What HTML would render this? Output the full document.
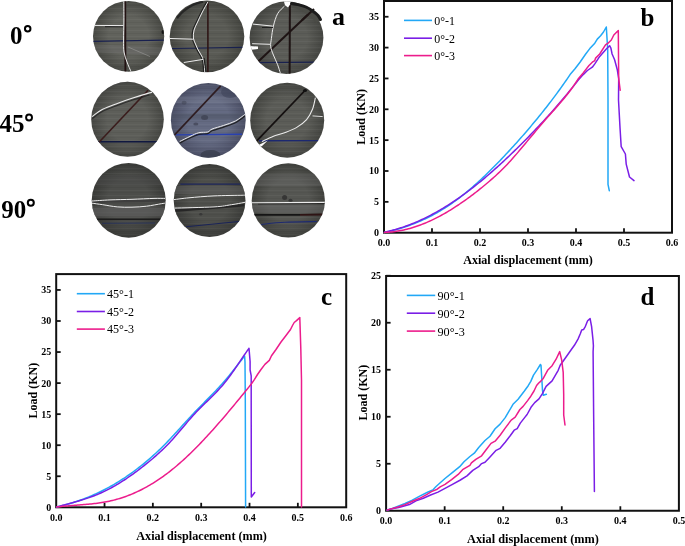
<!DOCTYPE html>
<html><head><meta charset="utf-8"><style>
html,body{margin:0;padding:0;background:#fff;}
svg{display:block;}
text{font-family:"Liberation Serif", serif;fill:#000;}
svg{will-change:transform;}
</style></head><body>
<svg width="685" height="546" viewBox="0 0 685 546">
<defs><pattern id="grain" width="53" height="11" patternUnits="userSpaceOnUse"><rect y="0" width="53" height="1" fill="#000" opacity="0.05"/><rect y="3" width="53" height="1" fill="#fff" opacity="0.03"/><rect y="5" width="53" height="1" fill="#000" opacity="0.04"/><rect y="8" width="53" height="1" fill="#fff" opacity="0.04"/></pattern><clipPath id="k0"><ellipse cx="128.6" cy="36.3" rx="35.6" ry="35.4"/></clipPath><radialGradient id="g0" cx="0.5" cy="0.5" r="0.5"><stop offset="0" stop-color="#61625c"/><stop offset="0.55" stop-color="#61625c"/><stop offset="1" stop-color="#464742"/></radialGradient><clipPath id="k1"><ellipse cx="207.0" cy="36.4" rx="37.3" ry="35.9"/></clipPath><radialGradient id="g1" cx="0.5" cy="0.5" r="0.5"><stop offset="0" stop-color="#5a5b55"/><stop offset="0.55" stop-color="#5a5b55"/><stop offset="1" stop-color="#43443f"/></radialGradient><clipPath id="k2"><ellipse cx="286.5" cy="37.7" rx="36.9" ry="36.4"/></clipPath><radialGradient id="g2" cx="0.5" cy="0.5" r="0.5"><stop offset="0" stop-color="#5b5c57"/><stop offset="0.55" stop-color="#5b5c57"/><stop offset="1" stop-color="#434440"/></radialGradient><clipPath id="k3"><ellipse cx="127.5" cy="119.3" rx="36.3" ry="37.5"/></clipPath><radialGradient id="g3" cx="0.5" cy="0.5" r="0.5"><stop offset="0" stop-color="#5d5e59"/><stop offset="0.55" stop-color="#5d5e59"/><stop offset="1" stop-color="#454642"/></radialGradient><clipPath id="k4"><ellipse cx="208.3" cy="120.3" rx="37.4" ry="37.4"/></clipPath><radialGradient id="g4" cx="0.5" cy="0.5" r="0.5"><stop offset="0" stop-color="#646a82"/><stop offset="0.55" stop-color="#646a82"/><stop offset="1" stop-color="#4a4e64"/></radialGradient><clipPath id="k5"><ellipse cx="287.2" cy="120.2" rx="37.0" ry="37.5"/></clipPath><radialGradient id="g5" cx="0.5" cy="0.5" r="0.5"><stop offset="0" stop-color="#5b5c57"/><stop offset="0.55" stop-color="#5b5c57"/><stop offset="1" stop-color="#434440"/></radialGradient><clipPath id="k6"><ellipse cx="128.7" cy="200.3" rx="37.0" ry="37.4"/></clipPath><radialGradient id="g6" cx="0.5" cy="0.5" r="0.5"><stop offset="0" stop-color="#4c4d4a"/><stop offset="0.55" stop-color="#4c4d4a"/><stop offset="1" stop-color="#393a37"/></radialGradient><clipPath id="k7"><ellipse cx="209.6" cy="200.5" rx="35.9" ry="36.4"/></clipPath><radialGradient id="g7" cx="0.5" cy="0.5" r="0.5"><stop offset="0" stop-color="#4e4f4b"/><stop offset="0.55" stop-color="#4e4f4b"/><stop offset="1" stop-color="#3a3b38"/></radialGradient><clipPath id="k8"><ellipse cx="288.3" cy="200.4" rx="36.6" ry="37.2"/></clipPath><radialGradient id="g8" cx="0.5" cy="0.5" r="0.5"><stop offset="0" stop-color="#555652"/><stop offset="0.55" stop-color="#555652"/><stop offset="1" stop-color="#3f403c"/></radialGradient></defs>
<rect width="685" height="546" fill="#fff"/>
<rect x="384" y="1" width="288" height="231.7" fill="none" stroke="#111" stroke-width="2"/>
<line x1="432.0" y1="232.7" x2="432.0" y2="228.2" stroke="#111" stroke-width="1.8"/>
<line x1="480.0" y1="232.7" x2="480.0" y2="228.2" stroke="#111" stroke-width="1.8"/>
<line x1="528.0" y1="232.7" x2="528.0" y2="228.2" stroke="#111" stroke-width="1.8"/>
<line x1="576.0" y1="232.7" x2="576.0" y2="228.2" stroke="#111" stroke-width="1.8"/>
<line x1="624.0" y1="232.7" x2="624.0" y2="228.2" stroke="#111" stroke-width="1.8"/>
<line x1="384" y1="201.85" x2="388.5" y2="201.85" stroke="#111" stroke-width="1.8"/>
<line x1="384" y1="171.0" x2="388.5" y2="171.0" stroke="#111" stroke-width="1.8"/>
<line x1="384" y1="140.14999999999998" x2="388.5" y2="140.14999999999998" stroke="#111" stroke-width="1.8"/>
<line x1="384" y1="109.29999999999998" x2="388.5" y2="109.29999999999998" stroke="#111" stroke-width="1.8"/>
<line x1="384" y1="78.44999999999999" x2="388.5" y2="78.44999999999999" stroke="#111" stroke-width="1.8"/>
<line x1="384" y1="47.599999999999994" x2="388.5" y2="47.599999999999994" stroke="#111" stroke-width="1.8"/>
<line x1="384" y1="16.75" x2="388.5" y2="16.75" stroke="#111" stroke-width="1.8"/>
<text x="384.0" y="246.1" font-size="10" font-weight="bold" text-anchor="middle">0.0</text>
<text x="432.0" y="246.1" font-size="10" font-weight="bold" text-anchor="middle">0.1</text>
<text x="480.0" y="246.1" font-size="10" font-weight="bold" text-anchor="middle">0.2</text>
<text x="528.0" y="246.1" font-size="10" font-weight="bold" text-anchor="middle">0.3</text>
<text x="576.0" y="246.1" font-size="10" font-weight="bold" text-anchor="middle">0.4</text>
<text x="624.0" y="246.1" font-size="10" font-weight="bold" text-anchor="middle">0.5</text>
<text x="672.0" y="246.1" font-size="10" font-weight="bold" text-anchor="middle">0.6</text>
<text x="379" y="236.1" font-size="10" font-weight="bold" text-anchor="end">0</text>
<text x="379" y="205.25" font-size="10" font-weight="bold" text-anchor="end">5</text>
<text x="379" y="174.4" font-size="10" font-weight="bold" text-anchor="end">10</text>
<text x="379" y="143.54999999999998" font-size="10" font-weight="bold" text-anchor="end">15</text>
<text x="379" y="112.69999999999999" font-size="10" font-weight="bold" text-anchor="end">20</text>
<text x="379" y="81.85" font-size="10" font-weight="bold" text-anchor="end">25</text>
<text x="379" y="50.99999999999999" font-size="10" font-weight="bold" text-anchor="end">30</text>
<text x="379" y="20.15" font-size="10" font-weight="bold" text-anchor="end">35</text>
<text x="528.0" y="264.4" font-size="12.1" font-weight="bold" text-anchor="middle">Axial displacement (mm)</text>
<text x="0" y="0" font-size="12" font-weight="bold" text-anchor="middle" transform="translate(365.0,116.85) rotate(-90)">Load (KN)</text>
<path d="M384.40,232.40 L385.90,232.08 L387.40,231.76 L388.90,231.42 L390.40,231.06 L391.90,230.70 L393.40,230.32 L394.90,229.93 L396.40,229.52 L397.90,229.10 L399.40,228.67 L400.90,228.22 L402.40,227.76 L403.90,227.28 L405.40,226.79 L406.90,226.28 L408.40,225.76 L409.90,225.22 L411.40,224.67 L412.90,224.10 L414.40,223.52 L415.90,222.92 L417.40,222.30 L418.90,221.67 L420.40,221.02 L421.90,220.36 L423.40,219.68 L424.90,218.98 L426.40,218.26 L427.90,217.53 L429.40,216.77 L430.90,216.00 L432.40,215.22 L433.90,214.41 L435.40,213.59 L436.90,212.75 L438.40,211.89 L439.90,211.01 L441.40,210.11 L442.90,209.19 L444.40,208.25 L445.90,207.30 L447.40,206.32 L448.90,205.33 L450.40,204.32 L451.90,203.28 L453.40,202.23 L454.90,201.15 L456.40,200.06 L457.90,198.94 L459.40,197.81 L460.90,196.65 L462.40,195.48 L463.90,194.28 L465.40,193.07 L466.90,191.83 L468.40,190.58 L469.90,189.31 L471.40,188.02 L472.90,186.71 L474.40,185.38 L475.90,184.04 L477.40,182.69 L478.90,181.31 L480.40,179.93 L481.90,178.52 L483.40,177.11 L484.90,175.68 L486.40,174.23 L487.90,172.77 L489.40,171.30 L490.90,169.82 L492.40,168.32 L493.90,166.82 L495.40,165.30 L496.90,163.77 L498.40,162.22 L499.90,160.67 L501.40,159.11 L502.90,157.53 L504.40,155.95 L505.90,154.35 L507.40,152.74 L508.90,151.13 L510.40,149.50 L511.90,147.86 L513.40,146.22 L514.90,144.56 L516.40,142.89 L517.90,141.21 L519.40,139.53 L520.90,137.83 L522.40,136.12 L523.90,134.40 L525.40,132.67 L526.90,130.93 L528.40,129.18 L529.90,127.41 L531.40,125.64 L532.90,123.85 L534.40,122.05 L535.90,120.24 L537.40,118.41 L538.90,116.57 L540.40,114.72 L541.90,112.86 L543.40,110.98 L544.90,109.08 L546.40,107.17 L547.90,105.25 L549.40,103.31 L550.90,101.35 L552.40,99.38 L553.90,97.38 L555.40,95.37 L556.90,93.34 L558.40,91.29 L559.90,89.22 L561.40,87.14 L562.90,85.03 L564.40,82.89 L565.90,80.74 L567.40,78.57 L568.90,76.37 L570.40,74.15 L570.50,74.00 L575.00,68.80 L580.00,62.20 L585.70,54.00 L589.80,48.60 L594.80,43.20 L597.30,39.10 L600.60,35.80 L603.50,32.00 L606.30,27.00 L606.80,35.00 L607.70,49.30 L608.00,100.00 L608.00,184.30 L609.30,190.70 " fill="none" stroke="#22a8f6" stroke-width="1.5" stroke-linejoin="round" stroke-linecap="round"/>
<path d="M384.40,232.19 L385.90,231.88 L387.40,231.55 L388.90,231.20 L390.40,230.84 L391.90,230.46 L393.40,230.06 L394.90,229.65 L396.40,229.22 L397.90,228.77 L399.40,228.31 L400.90,227.84 L402.40,227.34 L403.90,226.84 L405.40,226.31 L406.90,225.77 L408.40,225.22 L409.90,224.65 L411.40,224.06 L412.90,223.46 L414.40,222.84 L415.90,222.21 L417.40,221.57 L418.90,220.90 L420.40,220.23 L421.90,219.54 L423.40,218.83 L424.90,218.11 L426.40,217.37 L427.90,216.62 L429.40,215.85 L430.90,215.07 L432.40,214.28 L433.90,213.47 L435.40,212.65 L436.90,211.81 L438.40,210.96 L439.90,210.09 L441.40,209.21 L442.90,208.31 L444.40,207.41 L445.90,206.48 L447.40,205.55 L448.90,204.60 L450.40,203.63 L451.90,202.65 L453.40,201.66 L454.90,200.66 L456.40,199.64 L457.90,198.61 L459.40,197.56 L460.90,196.50 L462.40,195.43 L463.90,194.35 L465.40,193.25 L466.90,192.14 L468.40,191.02 L469.90,189.88 L471.40,188.73 L472.90,187.57 L474.40,186.39 L475.90,185.20 L477.40,184.00 L478.90,182.79 L480.40,181.57 L481.90,180.33 L483.40,179.08 L484.90,177.82 L486.40,176.54 L487.90,175.26 L489.40,173.97 L490.90,172.66 L492.40,171.34 L493.90,170.01 L495.40,168.68 L496.90,167.33 L498.40,165.97 L499.90,164.60 L501.40,163.22 L502.90,161.83 L504.40,160.44 L505.90,159.03 L507.40,157.62 L508.90,156.19 L510.40,154.76 L511.90,153.32 L513.40,151.87 L514.90,150.41 L516.40,148.94 L517.90,147.47 L519.40,145.99 L520.90,144.50 L522.40,143.00 L523.90,141.49 L525.40,139.98 L526.90,138.46 L528.40,136.92 L529.90,135.38 L531.40,133.84 L532.90,132.28 L534.40,130.72 L535.90,129.14 L537.40,127.56 L538.90,125.97 L540.40,124.37 L541.90,122.76 L543.40,121.14 L544.90,119.51 L546.40,117.87 L547.90,116.21 L549.40,114.55 L550.90,112.88 L552.40,111.19 L553.90,109.49 L555.40,107.78 L556.90,106.06 L558.40,104.33 L559.90,102.58 L561.40,100.82 L562.90,99.05 L564.40,97.26 L565.90,95.46 L567.40,93.65 L568.90,91.82 L570.40,89.97 L571.90,88.12 L573.40,86.24 L574.90,84.35 L576.40,82.45 L577.90,80.53 L578.30,80.01 L583.20,74.60 L587.40,70.50 L592.30,67.20 L594.80,63.90 L599.70,56.40 L606.30,49.00 L609.60,45.70 L610.90,48.20 L612.10,54.00 L614.60,59.70 L617.30,69.80 L618.70,78.60 L618.50,100.00 L620.00,127.50 L621.20,146.70 L625.40,154.00 L626.20,164.10 L629.50,177.00 L634.00,180.60 " fill="none" stroke="#7a1ee6" stroke-width="1.5" stroke-linejoin="round" stroke-linecap="round"/>
<path d="M384.40,232.40 L385.90,232.35 L387.40,232.27 L388.90,232.17 L390.40,232.05 L391.90,231.91 L393.40,231.74 L394.90,231.55 L396.40,231.33 L397.90,231.10 L399.40,230.84 L400.90,230.56 L402.40,230.26 L403.90,229.93 L405.40,229.58 L406.90,229.22 L408.40,228.83 L409.90,228.42 L411.40,227.99 L412.90,227.54 L414.40,227.06 L415.90,226.57 L417.40,226.06 L418.90,225.53 L420.40,224.98 L421.90,224.40 L423.40,223.81 L424.90,223.20 L426.40,222.57 L427.90,221.92 L429.40,221.26 L430.90,220.57 L432.40,219.87 L433.90,219.14 L435.40,218.40 L436.90,217.64 L438.40,216.87 L439.90,216.07 L441.40,215.26 L442.90,214.44 L444.40,213.59 L445.90,212.73 L447.40,211.85 L448.90,210.96 L450.40,210.04 L451.90,209.12 L453.40,208.17 L454.90,207.22 L456.40,206.24 L457.90,205.25 L459.40,204.25 L460.90,203.23 L462.40,202.19 L463.90,201.14 L465.40,200.08 L466.90,199.00 L468.40,197.91 L469.90,196.81 L471.40,195.69 L472.90,194.55 L474.40,193.41 L475.90,192.25 L477.40,191.08 L478.90,189.89 L480.40,188.69 L481.90,187.48 L483.40,186.26 L484.90,185.02 L486.40,183.78 L487.90,182.51 L489.40,181.23 L490.90,179.94 L492.40,178.63 L493.90,177.29 L495.40,175.94 L496.90,174.56 L498.40,173.16 L499.90,171.73 L501.40,170.28 L502.90,168.80 L504.40,167.29 L505.90,165.75 L507.40,164.18 L508.90,162.57 L510.40,160.94 L511.90,159.27 L513.40,157.58 L514.90,155.86 L516.40,154.13 L517.90,152.37 L519.40,150.60 L520.90,148.82 L522.40,147.03 L523.90,145.23 L525.40,143.43 L526.90,141.63 L528.40,139.83 L529.90,138.03 L531.40,136.23 L532.90,134.44 L534.40,132.65 L535.90,130.86 L537.40,129.08 L538.90,127.31 L540.40,125.54 L541.90,123.79 L543.40,122.05 L544.90,120.31 L546.40,118.59 L547.90,116.88 L549.40,115.19 L550.90,113.50 L552.40,111.82 L553.90,110.14 L555.40,108.45 L556.90,106.75 L558.40,105.04 L559.90,103.31 L561.40,101.55 L562.90,99.76 L564.40,97.95 L565.90,96.09 L567.40,94.19 L568.90,92.25 L570.40,90.25 L571.90,88.20 L573.40,86.09 L574.90,83.91 L576.40,81.66 L577.90,79.34 L578.30,78.70 L583.20,72.90 L589.00,65.50 L592.30,62.20 L594.80,60.60 L595.60,58.10 L599.70,54.00 L605.50,44.90 L608.00,43.20 L611.30,40.00 L613.80,35.00 L618.30,30.50 L618.70,78.60 L620.20,90.30 " fill="none" stroke="#ec1c8c" stroke-width="1.5" stroke-linejoin="round" stroke-linecap="round"/>
<line x1="404" y1="20.4" x2="432" y2="20.4" stroke="#22a8f6" stroke-width="1.6"/>
<text x="0" y="0" font-size="12.6" transform="translate(434.3,24.7) scale(0.95,1)">0°-1</text>
<line x1="404" y1="38.2" x2="432" y2="38.2" stroke="#7a1ee6" stroke-width="1.6"/>
<text x="0" y="0" font-size="12.6" transform="translate(434.3,42.5) scale(0.95,1)">0°-2</text>
<line x1="404" y1="55.6" x2="432" y2="55.6" stroke="#ec1c8c" stroke-width="1.6"/>
<text x="0" y="0" font-size="12.6" transform="translate(434.3,59.9) scale(0.95,1)">0°-3</text>
<text x="640.5" y="26" font-size="25" font-weight="bold">b</text>
<rect x="56.2" y="274.1" width="290.0" height="233.2" fill="none" stroke="#111" stroke-width="2"/>
<line x1="104.53" y1="507.3" x2="104.53" y2="502.8" stroke="#111" stroke-width="1.8"/>
<line x1="152.86" y1="507.3" x2="152.86" y2="502.8" stroke="#111" stroke-width="1.8"/>
<line x1="201.19" y1="507.3" x2="201.19" y2="502.8" stroke="#111" stroke-width="1.8"/>
<line x1="249.52000000000004" y1="507.3" x2="249.52000000000004" y2="502.8" stroke="#111" stroke-width="1.8"/>
<line x1="297.85" y1="507.3" x2="297.85" y2="502.8" stroke="#111" stroke-width="1.8"/>
<line x1="56.2" y1="476.25" x2="60.7" y2="476.25" stroke="#111" stroke-width="1.8"/>
<line x1="56.2" y1="445.2" x2="60.7" y2="445.2" stroke="#111" stroke-width="1.8"/>
<line x1="56.2" y1="414.15" x2="60.7" y2="414.15" stroke="#111" stroke-width="1.8"/>
<line x1="56.2" y1="383.1" x2="60.7" y2="383.1" stroke="#111" stroke-width="1.8"/>
<line x1="56.2" y1="352.05" x2="60.7" y2="352.05" stroke="#111" stroke-width="1.8"/>
<line x1="56.2" y1="321.0" x2="60.7" y2="321.0" stroke="#111" stroke-width="1.8"/>
<line x1="56.2" y1="289.95000000000005" x2="60.7" y2="289.95000000000005" stroke="#111" stroke-width="1.8"/>
<text x="56.2" y="520.7" font-size="10" font-weight="bold" text-anchor="middle">0.0</text>
<text x="104.53" y="520.7" font-size="10" font-weight="bold" text-anchor="middle">0.1</text>
<text x="152.86" y="520.7" font-size="10" font-weight="bold" text-anchor="middle">0.2</text>
<text x="201.19" y="520.7" font-size="10" font-weight="bold" text-anchor="middle">0.3</text>
<text x="249.52000000000004" y="520.7" font-size="10" font-weight="bold" text-anchor="middle">0.4</text>
<text x="297.85" y="520.7" font-size="10" font-weight="bold" text-anchor="middle">0.5</text>
<text x="346.18" y="520.7" font-size="10" font-weight="bold" text-anchor="middle">0.6</text>
<text x="51.2" y="510.7" font-size="10" font-weight="bold" text-anchor="end">0</text>
<text x="51.2" y="479.65" font-size="10" font-weight="bold" text-anchor="end">5</text>
<text x="51.2" y="448.59999999999997" font-size="10" font-weight="bold" text-anchor="end">10</text>
<text x="51.2" y="417.54999999999995" font-size="10" font-weight="bold" text-anchor="end">15</text>
<text x="51.2" y="386.5" font-size="10" font-weight="bold" text-anchor="end">20</text>
<text x="51.2" y="355.45" font-size="10" font-weight="bold" text-anchor="end">25</text>
<text x="51.2" y="324.4" font-size="10" font-weight="bold" text-anchor="end">30</text>
<text x="51.2" y="293.35" font-size="10" font-weight="bold" text-anchor="end">35</text>
<text x="201.6" y="540.2" font-size="12.2" font-weight="bold" text-anchor="middle">Axial displacement (mm)</text>
<text x="0" y="0" font-size="12" font-weight="bold" text-anchor="middle" transform="translate(37.0,390.70000000000005) rotate(-90)">Load (KN)</text>
<path d="M56.80,506.99 L58.30,506.65 L59.80,506.29 L61.30,505.93 L62.80,505.55 L64.30,505.15 L65.80,504.75 L67.30,504.33 L68.80,503.90 L70.30,503.46 L71.80,503.00 L73.30,502.54 L74.80,502.05 L76.30,501.56 L77.80,501.05 L79.30,500.53 L80.80,499.99 L82.30,499.45 L83.80,498.88 L85.30,498.31 L86.80,497.72 L88.30,497.11 L89.80,496.49 L91.30,495.86 L92.80,495.21 L94.30,494.55 L95.80,493.87 L97.30,493.18 L98.80,492.47 L100.30,491.74 L101.80,491.01 L103.30,490.25 L104.80,489.48 L106.30,488.70 L107.80,487.90 L109.30,487.08 L110.80,486.25 L112.30,485.40 L113.80,484.53 L115.30,483.65 L116.80,482.75 L118.30,481.84 L119.80,480.91 L121.30,479.96 L122.80,478.99 L124.30,478.01 L125.80,477.01 L127.30,475.99 L128.80,474.96 L130.30,473.90 L131.80,472.83 L133.30,471.74 L134.80,470.64 L136.30,469.51 L137.80,468.37 L139.30,467.21 L140.80,466.03 L142.30,464.83 L143.80,463.62 L145.30,462.38 L146.80,461.12 L148.30,459.85 L149.80,458.56 L151.30,457.25 L152.80,455.91 L154.30,454.56 L155.80,453.18 L157.30,451.79 L158.80,450.37 L160.30,448.93 L161.80,447.47 L163.30,445.98 L164.80,444.48 L166.30,442.94 L167.80,441.39 L169.30,439.81 L170.80,438.22 L172.30,436.61 L173.80,434.99 L175.30,433.35 L176.80,431.71 L178.30,430.06 L179.80,428.41 L181.30,426.75 L182.80,425.10 L184.30,423.44 L185.80,421.79 L187.30,420.15 L188.80,418.52 L190.30,416.89 L191.80,415.28 L193.30,413.69 L194.80,412.11 L196.30,410.55 L197.80,409.00 L199.30,407.47 L200.80,405.94 L202.30,404.42 L203.80,402.91 L205.30,401.40 L206.80,399.89 L208.30,398.37 L209.80,396.85 L211.30,395.32 L212.80,393.78 L214.30,392.23 L215.80,390.66 L217.30,389.07 L218.80,387.46 L220.30,385.83 L221.80,384.17 L223.30,382.49 L224.80,380.77 L226.30,379.02 L227.80,377.23 L229.30,375.40 L230.80,373.55 L232.30,371.67 L233.80,369.78 L235.30,367.87 L236.80,365.94 L238.30,364.02 L239.80,362.09 L241.30,360.17 L242.80,358.27 L244.30,356.37 L244.60,356.00 L245.00,362.00 L245.30,400.00 L245.60,507.00 " fill="none" stroke="#22a8f6" stroke-width="1.5" stroke-linejoin="round" stroke-linecap="round"/>
<path d="M56.80,507.00 L58.30,506.58 L59.80,506.16 L61.30,505.75 L62.80,505.34 L64.30,504.93 L65.80,504.52 L67.30,504.11 L68.80,503.71 L70.30,503.30 L71.80,502.88 L73.30,502.47 L74.80,502.04 L76.30,501.62 L77.80,501.18 L79.30,500.74 L80.80,500.29 L82.30,499.83 L83.80,499.36 L85.30,498.88 L86.80,498.38 L88.30,497.88 L89.80,497.35 L91.30,496.82 L92.80,496.26 L94.30,495.69 L95.80,495.10 L97.30,494.49 L98.80,493.86 L100.30,493.21 L101.80,492.54 L103.30,491.85 L104.80,491.13 L106.30,490.39 L107.80,489.64 L109.30,488.86 L110.80,488.06 L112.30,487.24 L113.80,486.40 L115.30,485.54 L116.80,484.67 L118.30,483.77 L119.80,482.85 L121.30,481.92 L122.80,480.97 L124.30,480.00 L125.80,479.01 L127.30,478.00 L128.80,476.98 L130.30,475.94 L131.80,474.88 L133.30,473.81 L134.80,472.72 L136.30,471.61 L137.80,470.49 L139.30,469.35 L140.80,468.20 L142.30,467.03 L143.80,465.85 L145.30,464.65 L146.80,463.44 L148.30,462.21 L149.80,460.97 L151.30,459.72 L152.80,458.45 L154.30,457.16 L155.80,455.85 L157.30,454.52 L158.80,453.17 L160.30,451.79 L161.80,450.38 L163.30,448.95 L164.80,447.49 L166.30,446.00 L167.80,444.47 L169.30,442.91 L170.80,441.31 L172.30,439.67 L173.80,438.00 L175.30,436.29 L176.80,434.56 L178.30,432.80 L179.80,431.03 L181.30,429.25 L182.80,427.46 L184.30,425.68 L185.80,423.90 L187.30,422.13 L188.80,420.38 L190.30,418.65 L191.80,416.95 L193.30,415.28 L194.80,413.66 L196.30,412.07 L197.80,410.52 L199.30,408.99 L200.80,407.49 L202.30,406.01 L203.80,404.54 L205.30,403.08 L206.80,401.63 L208.30,400.17 L209.80,398.71 L211.30,397.23 L212.80,395.74 L214.30,394.23 L215.80,392.69 L217.30,391.12 L218.80,389.51 L220.30,387.86 L221.80,386.16 L223.30,384.41 L224.80,382.60 L226.30,380.73 L227.80,378.79 L229.30,376.78 L230.80,374.72 L232.30,372.61 L233.80,370.46 L235.30,368.28 L236.80,366.07 L238.30,363.85 L239.80,361.62 L241.30,359.40 L242.80,357.18 L244.30,354.98 L245.80,352.81 L247.30,350.67 L248.80,348.58 L249.00,348.30 L250.10,361.50 L250.10,370.00 L251.20,375.80 L251.20,405.00 L251.30,497.00 L254.70,492.50 " fill="none" stroke="#7a1ee6" stroke-width="1.5" stroke-linejoin="round" stroke-linecap="round"/>
<path d="M56.80,506.98 L58.30,506.80 L59.80,506.63 L61.30,506.47 L62.80,506.32 L64.30,506.18 L65.80,506.04 L67.30,505.91 L68.80,505.79 L70.30,505.67 L71.80,505.55 L73.30,505.43 L74.80,505.32 L76.30,505.21 L77.80,505.09 L79.30,504.98 L80.80,504.86 L82.30,504.75 L83.80,504.62 L85.30,504.50 L86.80,504.37 L88.30,504.23 L89.80,504.08 L91.30,503.93 L92.80,503.77 L94.30,503.60 L95.80,503.42 L97.30,503.23 L98.80,503.02 L100.30,502.80 L101.80,502.57 L103.30,502.33 L104.80,502.06 L106.30,501.79 L107.80,501.49 L109.30,501.18 L110.80,500.84 L112.30,500.49 L113.80,500.12 L115.30,499.73 L116.80,499.32 L118.30,498.89 L119.80,498.44 L121.30,497.96 L122.80,497.47 L124.30,496.96 L125.80,496.43 L127.30,495.88 L128.80,495.31 L130.30,494.71 L131.80,494.10 L133.30,493.46 L134.80,492.81 L136.30,492.13 L137.80,491.44 L139.30,490.72 L140.80,489.98 L142.30,489.22 L143.80,488.44 L145.30,487.64 L146.80,486.81 L148.30,485.97 L149.80,485.10 L151.30,484.21 L152.80,483.30 L154.30,482.37 L155.80,481.41 L157.30,480.44 L158.80,479.44 L160.30,478.42 L161.80,477.38 L163.30,476.31 L164.80,475.23 L166.30,474.12 L167.80,472.98 L169.30,471.83 L170.80,470.65 L172.30,469.45 L173.80,468.23 L175.30,466.98 L176.80,465.72 L178.30,464.43 L179.80,463.13 L181.30,461.80 L182.80,460.45 L184.30,459.08 L185.80,457.70 L187.30,456.29 L188.80,454.87 L190.30,453.43 L191.80,451.97 L193.30,450.49 L194.80,449.00 L196.30,447.49 L197.80,445.96 L199.30,444.42 L200.80,442.86 L202.30,441.29 L203.80,439.70 L205.30,438.10 L206.80,436.49 L208.30,434.86 L209.80,433.22 L211.30,431.56 L212.80,429.89 L214.30,428.21 L215.80,426.52 L217.30,424.82 L218.80,423.11 L220.30,421.38 L221.80,419.65 L223.30,417.90 L224.80,416.15 L226.30,414.39 L227.80,412.62 L229.30,410.84 L230.80,409.05 L232.30,407.25 L233.80,405.45 L235.30,403.64 L236.80,401.83 L238.30,400.01 L239.80,398.18 L241.30,396.35 L242.80,394.51 L244.30,392.67 L245.80,390.82 L247.30,388.97 L248.80,387.11 L250.30,385.26 L251.80,383.40 L254.50,379.30 L257.50,374.50 L261.00,369.50 L264.90,364.40 L269.30,360.40 L271.50,355.80 L276.00,349.50 L281.00,342.00 L286.00,335.50 L290.50,329.50 L292.50,325.50 L294.20,322.50 L296.50,320.60 L299.80,317.60 L300.80,348.40 L301.50,380.00 L301.50,507.00 " fill="none" stroke="#ec1c8c" stroke-width="1.5" stroke-linejoin="round" stroke-linecap="round"/>
<line x1="76.8" y1="293.7" x2="104.9" y2="293.7" stroke="#22a8f6" stroke-width="1.6"/>
<text x="0" y="0" font-size="13" transform="translate(107.0,298.0) scale(0.93,1)">45°-1</text>
<line x1="76.8" y1="311.5" x2="104.9" y2="311.5" stroke="#7a1ee6" stroke-width="1.6"/>
<text x="0" y="0" font-size="13" transform="translate(107.0,315.8) scale(0.93,1)">45°-2</text>
<line x1="76.8" y1="329.1" x2="104.9" y2="329.1" stroke="#ec1c8c" stroke-width="1.6"/>
<text x="0" y="0" font-size="13" transform="translate(107.0,333.40000000000003) scale(0.93,1)">45°-3</text>
<text x="321" y="305" font-size="25" font-weight="bold">c</text>
<rect x="386.1" y="276" width="292.79999999999995" height="234.75" fill="none" stroke="#111" stroke-width="2"/>
<line x1="444.66" y1="510.75" x2="444.66" y2="506.25" stroke="#111" stroke-width="1.8"/>
<line x1="503.22" y1="510.75" x2="503.22" y2="506.25" stroke="#111" stroke-width="1.8"/>
<line x1="561.78" y1="510.75" x2="561.78" y2="506.25" stroke="#111" stroke-width="1.8"/>
<line x1="620.34" y1="510.75" x2="620.34" y2="506.25" stroke="#111" stroke-width="1.8"/>
<line x1="386.1" y1="463.75" x2="390.6" y2="463.75" stroke="#111" stroke-width="1.8"/>
<line x1="386.1" y1="416.75" x2="390.6" y2="416.75" stroke="#111" stroke-width="1.8"/>
<line x1="386.1" y1="369.75" x2="390.6" y2="369.75" stroke="#111" stroke-width="1.8"/>
<line x1="386.1" y1="322.75" x2="390.6" y2="322.75" stroke="#111" stroke-width="1.8"/>
<line x1="386.1" y1="275.75" x2="390.6" y2="275.75" stroke="#111" stroke-width="1.8"/>
<text x="386.1" y="524.15" font-size="10" font-weight="bold" text-anchor="middle">0.0</text>
<text x="444.66" y="524.15" font-size="10" font-weight="bold" text-anchor="middle">0.1</text>
<text x="503.22" y="524.15" font-size="10" font-weight="bold" text-anchor="middle">0.2</text>
<text x="561.78" y="524.15" font-size="10" font-weight="bold" text-anchor="middle">0.3</text>
<text x="620.34" y="524.15" font-size="10" font-weight="bold" text-anchor="middle">0.4</text>
<text x="678.9000000000001" y="524.15" font-size="10" font-weight="bold" text-anchor="middle">0.5</text>
<text x="381.1" y="514.15" font-size="10" font-weight="bold" text-anchor="end">0</text>
<text x="381.1" y="467.15" font-size="10" font-weight="bold" text-anchor="end">5</text>
<text x="381.1" y="420.15" font-size="10" font-weight="bold" text-anchor="end">10</text>
<text x="381.1" y="373.15" font-size="10" font-weight="bold" text-anchor="end">15</text>
<text x="381.1" y="326.15" font-size="10" font-weight="bold" text-anchor="end">20</text>
<text x="381.1" y="279.15" font-size="10" font-weight="bold" text-anchor="end">25</text>
<text x="533.0" y="543.0" font-size="12.3" font-weight="bold" text-anchor="middle">Axial displacement (mm)</text>
<text x="0" y="0" font-size="12" font-weight="bold" text-anchor="middle" transform="translate(366.5,392.675) rotate(-90)">Load (KN)</text>
<path d="M387.10,510.10 L393.00,508.20 L398.70,506.00 L405.00,503.50 L412.30,500.20 L419.70,496.10 L427.00,492.50 L432.80,489.90 L435.80,486.70 L440.20,482.80 L445.00,478.50 L452.30,472.60 L459.70,466.70 L464.00,461.80 L469.90,456.50 L474.30,453.20 L478.70,447.50 L485.00,440.50 L490.00,436.20 L495.10,428.80 L500.10,424.10 L505.20,417.60 L508.00,412.90 L513.00,404.30 L518.10,399.30 L524.40,391.00 L528.20,385.70 L530.80,381.40 L533.50,375.10 L537.20,369.60 L540.40,364.50 L541.00,365.20 L542.50,390.40 L543.30,395.30 L546.30,394.30 " fill="none" stroke="#22a8f6" stroke-width="1.5" stroke-linejoin="round" stroke-linecap="round"/>
<path d="M387.10,510.10 L393.00,508.60 L398.70,507.40 L409.40,504.60 L416.00,500.90 L423.30,498.30 L430.60,495.00 L438.00,492.10 L445.00,488.40 L452.00,484.60 L460.40,480.00 L467.00,475.90 L472.80,470.40 L478.70,466.70 L481.60,463.60 L485.00,462.20 L490.00,456.90 L496.10,450.30 L500.10,448.30 L505.20,442.20 L510.20,435.70 L514.20,430.20 L517.20,428.60 L520.30,423.10 L525.00,417.10 L527.10,414.50 L531.00,407.30 L534.70,402.60 L539.00,398.90 L542.40,393.60 L546.10,386.40 L552.10,380.90 L558.20,370.30 L560.20,365.20 L565.20,358.20 L570.30,351.00 L574.40,345.30 L578.00,339.10 L580.20,334.00 L581.70,329.90 L583.50,329.60 L585.40,326.30 L587.60,320.80 L590.10,318.60 L591.60,326.60 L593.00,339.80 L593.40,345.70 L593.10,352.00 L593.60,410.00 L594.40,491.50 " fill="none" stroke="#7a1ee6" stroke-width="1.5" stroke-linejoin="round" stroke-linecap="round"/>
<path d="M387.10,510.10 L393.00,508.40 L398.70,506.70 L405.00,504.60 L412.30,501.30 L419.70,498.30 L427.00,494.30 L431.40,491.60 L437.20,489.20 L440.20,486.80 L445.00,484.40 L451.60,479.60 L458.20,474.40 L462.60,469.70 L469.90,465.30 L471.40,462.90 L475.80,459.40 L481.60,455.80 L485.00,451.30 L491.00,443.40 L495.10,441.20 L500.10,435.20 L505.20,428.10 L511.20,420.10 L515.20,417.20 L519.90,409.50 L523.10,406.40 L527.60,400.60 L530.80,396.20 L534.00,391.00 L536.60,385.50 L538.50,383.30 L540.00,381.90 L543.00,378.80 L547.60,370.30 L552.10,365.70 L556.10,359.20 L559.70,351.60 L561.70,360.20 L563.20,372.30 L563.70,395.00 L563.70,415.00 L565.00,425.00 " fill="none" stroke="#ec1c8c" stroke-width="1.5" stroke-linejoin="round" stroke-linecap="round"/>
<line x1="406.8" y1="295.4" x2="435.2" y2="295.4" stroke="#22a8f6" stroke-width="1.6"/>
<text x="0" y="0" font-size="13.5" transform="translate(437.5,299.9) scale(0.905,1)">90°-1</text>
<line x1="406.8" y1="313.2" x2="435.2" y2="313.2" stroke="#7a1ee6" stroke-width="1.6"/>
<text x="0" y="0" font-size="13.5" transform="translate(437.5,317.7) scale(0.905,1)">90°-2</text>
<line x1="406.8" y1="331.1" x2="435.2" y2="331.1" stroke="#ec1c8c" stroke-width="1.6"/>
<text x="0" y="0" font-size="13.5" transform="translate(437.5,335.6) scale(0.905,1)">90°-3</text>
<text x="640.5" y="305" font-size="25" font-weight="bold">d</text>
<text x="10" y="43.9" font-size="25" font-weight="bold">0</text>
<text x="-0.5" y="132" font-size="25" font-weight="bold">45</text>
<text x="1.2" y="217.7" font-size="25" font-weight="bold">90</text>
<circle cx="27.7" cy="28.85" r="2.75" fill="none" stroke="#000" stroke-width="2.0"/>
<circle cx="29.05" cy="117.45" r="2.95" fill="none" stroke="#000" stroke-width="1.95"/>
<circle cx="30.8" cy="202.8" r="3.0" fill="none" stroke="#000" stroke-width="2.05"/>
<text x="332" y="25.3" font-size="26" font-weight="bold">a</text>
<g clip-path="url(#k0)"><rect x="92.0" y="-0.10000000000000142" width="73.2" height="72.8" fill="url(#g0)"/><rect x="92.0" y="-0.10000000000000142" width="73.2" height="72.8" fill="url(#grain)"/><path d="M92.00,48.00 L164.00,52.00" fill="none" stroke="#707070" stroke-width="8" stroke-linejoin="round" opacity="0.35"/><path d="M92.00,41.30 L165.00,40.20" fill="none" stroke="#18204e" stroke-width="1.2" stroke-linejoin="round" opacity="1"/><path d="M105.00,26.70 L123.50,26.80" fill="none" stroke="#1e1e1e" stroke-width="1.0" stroke-linejoin="round" opacity="1"/><path d="M125.20,0.00 L125.40,73.00" fill="none" stroke="#221212" stroke-width="1.9" stroke-linejoin="round" opacity="1"/><path d="M123.80,0.00 C123.82,3.33 123.93,13.33 123.90,20.00 C123.87,26.67 123.58,34.67 123.60,40.00 C123.62,45.33 123.43,48.33 124.00,52.00 C124.57,55.67 125.80,58.67 127.00,62.00 C128.20,65.33 130.50,70.33 131.20,72.00" fill="none" stroke="#ececec" stroke-width="1.0" stroke-linejoin="round" opacity="1"/><path d="M93.00,25.40 L123.50,25.60" fill="none" stroke="#ececec" stroke-width="1.0" stroke-linejoin="round" opacity="1"/><path d="M128.00,47.00 L150.00,56.50" fill="none" stroke="#9a9a98" stroke-width="1.0" stroke-linejoin="round" opacity="0.6"/><ellipse cx="163" cy="32" rx="1.5" ry="2" fill="#151515"/></g>
<g clip-path="url(#k1)"><rect x="168.7" y="-0.5" width="76.6" height="73.8" fill="url(#g1)"/><rect x="168.7" y="-0.5" width="76.6" height="73.8" fill="url(#grain)"/><path d="M177.00,18.00 C177.83,17.08 180.28,14.12 182.00,12.50 C183.72,10.88 185.13,9.73 187.30,8.30 C189.47,6.87 192.38,4.98 195.00,3.90 C197.62,2.82 201.67,2.15 203.00,1.80" fill="none" stroke="#242424" stroke-width="2.2" stroke-linejoin="round" opacity="0.9"/><path d="M172.00,48.50 L244.00,47.40" fill="none" stroke="#18204e" stroke-width="1.2" stroke-linejoin="round" opacity="1"/><path d="M207.90,2.00 L207.90,72.00" fill="none" stroke="#2e1616" stroke-width="1.6" stroke-linejoin="round" opacity="1"/><path d="M206.60,2.00 C205.70,3.67 202.90,8.67 201.20,12.00 C199.50,15.33 197.78,19.00 196.40,22.00 C195.02,25.00 193.60,27.33 192.90,30.00 C192.20,32.67 191.97,35.67 192.20,38.00 C192.43,40.33 193.50,42.00 194.30,44.00 C195.10,46.00 195.97,48.00 197.00,50.00 C198.03,52.00 199.53,54.00 200.50,56.00 C201.47,58.00 202.28,59.33 202.80,62.00 C203.32,64.67 203.47,70.33 203.60,72.00" fill="none" stroke="#141414" stroke-width="1.2" stroke-linejoin="round" opacity="0.8"/><path d="M207.90,2.00 C206.98,3.67 204.12,8.67 202.40,12.00 C200.68,15.33 198.98,19.00 197.60,22.00 C196.22,25.00 194.80,27.33 194.10,30.00 C193.40,32.67 193.17,35.67 193.40,38.00 C193.63,40.33 194.70,42.00 195.50,44.00 C196.30,46.00 197.17,48.00 198.20,50.00 C199.23,52.00 200.73,54.00 201.70,56.00 C202.67,58.00 203.48,59.33 204.00,62.00 C204.52,64.67 204.67,70.33 204.80,72.00" fill="none" stroke="#ececec" stroke-width="1.0" stroke-linejoin="round" opacity="1"/><path d="M170.00,38.50 L193.40,39.20" fill="none" stroke="#ececec" stroke-width="1.0" stroke-linejoin="round" opacity="1"/><path d="M183.80,62.50 L203.00,59.40" fill="none" stroke="#ececec" stroke-width="1.0" stroke-linejoin="round" opacity="1"/><path d="M204.00,58.00 L206.00,72.00" fill="none" stroke="#1e1e1e" stroke-width="1.2" stroke-linejoin="round" opacity="1"/></g>
<g clip-path="url(#k2)"><rect x="248.6" y="0.30000000000000426" width="75.8" height="74.8" fill="url(#g2)"/><rect x="248.6" y="0.30000000000000426" width="75.8" height="74.8" fill="url(#grain)"/><path d="M256.00,62.60 L318.00,62.20" fill="none" stroke="#18204e" stroke-width="1.2" stroke-linejoin="round" opacity="1"/><path d="M289.90,4.00 L289.60,76.00" fill="none" stroke="#1e1414" stroke-width="2.0" stroke-linejoin="round" opacity="1"/><path d="M258.30,61.60 L312.60,10.30" fill="none" stroke="#1e1414" stroke-width="2.0" stroke-linejoin="round" opacity="1"/><path d="M284.40,6.20 C283.27,7.45 279.43,10.38 277.60,13.70 C275.77,17.02 274.43,21.97 273.40,26.10 C272.37,30.23 271.85,35.07 271.40,38.50 C270.95,41.93 270.37,43.95 270.70,46.70 C271.03,49.45 272.25,52.02 273.40,55.00 C274.55,57.98 276.45,61.62 277.60,64.60 C278.75,67.58 279.85,71.52 280.30,72.90" fill="none" stroke="#ececec" stroke-width="1.0" stroke-linejoin="round" opacity="1"/><path d="M252.80,24.10 L272.70,26.10" fill="none" stroke="#ececec" stroke-width="1.0" stroke-linejoin="round" opacity="1"/><path d="M252.10,43.70 L270.00,44.30" fill="none" stroke="#ececec" stroke-width="1.0" stroke-linejoin="round" opacity="1"/><path d="M262.00,27.50 L273.00,27.50" fill="none" stroke="#1e1e1e" stroke-width="1.0" stroke-linejoin="round" opacity="1"/><path d="M248,46 L258,46.5 L258,49 L248,50 Z" fill="#fff"/><path d="M283.5,0 L285,5.2 L288,7.5 L291,3.2 L292.5,0 Z" fill="#fff"/></g>
<path d="M292,5 C304,5 314,10 321,20.5 L316,23 C310,15 302,9 292,8 Z" fill="#4a4b46"/>
<line x1="302" y1="20.3" x2="314" y2="9" stroke="#1e1414" stroke-width="2"/>
<path d="M291.50,3.60 C292.58,3.77 295.58,4.03 298.00,4.60 C300.42,5.17 303.50,5.90 306.00,7.00 C308.50,8.10 311.00,9.78 313.00,11.20 C315.00,12.62 316.75,14.12 318.00,15.50 C319.25,16.88 320.08,18.83 320.50,19.50" fill="none" stroke="#1c1c1c" stroke-width="3.0" stroke-linecap="round"/>
<g clip-path="url(#k3)"><rect x="90.2" y="80.8" width="74.6" height="77.0" fill="url(#g3)"/><rect x="90.2" y="80.8" width="74.6" height="77.0" fill="url(#grain)"/><path d="M95,100 C105,88 120,82 140,82 L150,80 L90,80 Z" fill="#444" opacity="0.5"/><path d="M96.00,141.80 L158.00,141.80" fill="none" stroke="#101840" stroke-width="1.6" stroke-linejoin="round" opacity="1"/><path d="M99.00,142.30 L148.10,90.30" fill="none" stroke="#3a1c1c" stroke-width="1.6" stroke-linejoin="round" opacity="1"/><path d="M92.10,118.60 C93.87,117.38 98.50,113.50 102.70,111.30 C106.90,109.10 112.42,107.23 117.30,105.40 C122.18,103.57 126.63,102.05 132.00,100.30 C137.37,98.55 146.58,95.80 149.50,94.90" fill="none" stroke="#222" stroke-width="1.2" stroke-linejoin="round" opacity="0.8"/><path d="M92.10,116.60 C93.87,115.38 98.50,111.50 102.70,109.30 C106.90,107.10 112.42,105.23 117.30,103.40 C122.18,101.57 126.63,100.05 132.00,98.30 C137.37,96.55 146.17,93.87 149.50,92.90 C152.83,91.93 151.58,92.57 152.00,92.50" fill="none" stroke="#ececec" stroke-width="1.1" stroke-linejoin="round" opacity="1"/></g>
<g clip-path="url(#k4)"><rect x="169.9" y="81.9" width="76.8" height="76.8" fill="url(#g4)"/><rect x="169.9" y="81.9" width="76.8" height="76.8" fill="url(#grain)"/><path d="M170.00,116.60 L246.00,116.60" fill="none" stroke="#4a4f60" stroke-width="6" stroke-linejoin="round" opacity="0.45"/><path d="M170.00,100.00 L246.00,100.00" fill="none" stroke="#7b8296" stroke-width="6" stroke-linejoin="round" opacity="0.35"/><ellipse cx="210.5" cy="155" rx="10" ry="5" fill="#3a3e4e" opacity="0.8"/><ellipse cx="230" cy="92" rx="9" ry="6" fill="#40455a" opacity="0.6"/><ellipse cx="204.6" cy="117.4" rx="3.5" ry="2.5" fill="#3e4252" opacity="0.8"/><ellipse cx="195.8" cy="124" rx="2.5" ry="1.5" fill="#3e4252" opacity="0.7"/><ellipse cx="184.1" cy="102.7" rx="2.5" ry="2" fill="#3e4252" opacity="0.5"/><path d="M176.00,134.90 L242.00,134.30" fill="none" stroke="#2840b0" stroke-width="1.4" stroke-linejoin="round" opacity="1"/><path d="M174.60,134.90 L220.70,85.90" fill="none" stroke="#2e1c20" stroke-width="1.6" stroke-linejoin="round" opacity="1"/><path d="M179.70,143.00 C181.42,142.17 186.82,139.43 190.00,138.00 C193.18,136.57 195.87,135.12 198.80,134.40 C201.73,133.68 205.40,134.30 207.60,133.70 C209.80,133.10 209.32,131.90 212.00,130.80 C214.68,129.70 219.80,128.45 223.70,127.10 C227.60,125.75 231.87,124.53 235.40,122.70 C238.93,120.87 243.32,117.20 244.90,116.10" fill="none" stroke="#1a1a1a" stroke-width="1.2" stroke-linejoin="round" opacity="0.9"/><path d="M179.70,141.50 C181.42,140.65 186.82,137.87 190.00,136.40 C193.18,134.93 195.87,133.43 198.80,132.70 C201.73,131.97 205.40,132.60 207.60,132.00 C209.80,131.40 209.32,130.20 212.00,129.10 C214.68,128.00 219.80,126.75 223.70,125.40 C227.60,124.05 231.87,122.83 235.40,121.00 C238.93,119.17 243.32,115.50 244.90,114.40" fill="none" stroke="#ececec" stroke-width="1.0" stroke-linejoin="round" opacity="1"/></g>
<g clip-path="url(#k5)"><rect x="249.2" y="81.7" width="76.0" height="77.0" fill="url(#g5)"/><rect x="249.2" y="81.7" width="76.0" height="77.0" fill="url(#grain)"/><path d="M300,84 C310,88 318,95 324,110 L330,80 Z" fill="#3c3c3c" opacity="0.6"/><path d="M259.00,140.80 L318.30,140.60" fill="none" stroke="#1c2870" stroke-width="1.4" stroke-linejoin="round" opacity="1"/><path d="M256.80,140.80 L305.90,89.50" fill="none" stroke="#141010" stroke-width="1.8" stroke-linejoin="round" opacity="1"/><ellipse cx="305" cy="90.5" rx="2" ry="1.6" fill="#111"/><path d="M261.90,141.50 C263.73,140.65 269.12,137.87 272.90,136.40 C276.68,134.93 280.68,134.17 284.60,132.70 C288.52,131.23 292.73,129.78 296.40,127.60 C300.07,125.42 303.92,122.65 306.60,119.60 C309.28,116.55 311.03,112.97 312.50,109.30 C313.97,105.63 314.92,99.55 315.40,97.60" fill="none" stroke="#ececec" stroke-width="1.1" stroke-linejoin="round" opacity="1"/><path d="M312.50,115.90 L322.70,116.60" fill="none" stroke="#ececec" stroke-width="0.9" stroke-linejoin="round" opacity="1"/><path d="M250,148 L259.7,144.5 L267.8,140.5 L262,146 L250,152 Z" fill="#fff"/></g>
<g clip-path="url(#k6)"><rect x="90.69999999999999" y="161.9" width="76.0" height="76.8" fill="url(#g6)"/><rect x="90.69999999999999" y="161.9" width="76.0" height="76.8" fill="url(#grain)"/><path d="M92.00,212.00 L166.00,212.00" fill="none" stroke="#626262" stroke-width="9" stroke-linejoin="round" opacity="0.6"/><path d="M92.00,180.00 L166.00,180.00" fill="none" stroke="#4a4a4a" stroke-width="10" stroke-linejoin="round" opacity="0.4"/><path d="M92.00,201.60 L165.00,200.60" fill="none" stroke="#3a3a3a" stroke-width="2.2" stroke-linejoin="round" opacity="0.8"/><path d="M94.00,219.30 L163.00,219.30" fill="none" stroke="#1c1c1c" stroke-width="1.6" stroke-linejoin="round" opacity="1"/><path d="M102.00,223.30 L155.00,223.00" fill="none" stroke="#1e2a5a" stroke-width="1.0" stroke-linejoin="round" opacity="0.8"/><path d="M92.00,201.00 C95.00,200.82 103.33,200.18 110.00,199.90 C116.67,199.62 124.67,199.55 132.00,199.30 C139.33,199.05 148.50,198.55 154.00,198.40 C159.50,198.25 163.17,198.40 165.00,198.40" fill="none" stroke="#ececec" stroke-width="1.0" stroke-linejoin="round" opacity="1"/><path d="M92.00,203.20 C93.78,203.45 98.48,204.08 102.70,204.70 C106.92,205.32 112.42,206.48 117.30,206.90 C122.18,207.32 127.12,207.32 132.00,207.20 C136.88,207.08 141.72,206.78 146.60,206.20 C151.48,205.62 158.23,204.20 161.30,203.70 C164.37,203.20 164.38,203.28 165.00,203.20" fill="none" stroke="#ececec" stroke-width="1.0" stroke-linejoin="round" opacity="1"/></g>
<g clip-path="url(#k7)"><rect x="172.7" y="163.1" width="73.8" height="74.8" fill="url(#g7)"/><rect x="172.7" y="163.1" width="73.8" height="74.8" fill="url(#grain)"/><path d="M174.00,190.00 L246.00,190.00" fill="none" stroke="#666" stroke-width="8" stroke-linejoin="round" opacity="0.4"/><path d="M180.30,184.20 L240.30,184.20" fill="none" stroke="#1a2358" stroke-width="1.2" stroke-linejoin="round" opacity="1"/><path d="M174.00,210.80 L244.00,205.30" fill="none" stroke="#262626" stroke-width="2.6" stroke-linejoin="round" opacity="1"/><path d="M174.00,199.60 C176.50,199.30 182.33,198.42 189.00,197.80 C195.67,197.18 204.95,196.33 214.00,195.90 C223.05,195.47 237.97,195.35 243.30,195.20 C248.63,195.05 245.55,195.03 246.00,195.00" fill="none" stroke="#ececec" stroke-width="1.0" stroke-linejoin="round" opacity="1"/><path d="M174.00,208.10 C180.67,207.90 204.42,207.47 214.00,206.90 C223.58,206.33 226.50,205.43 231.50,204.70 C236.50,203.97 241.58,202.95 244.00,202.50 C246.42,202.05 245.67,202.08 246.00,202.00" fill="none" stroke="#ececec" stroke-width="1.0" stroke-linejoin="round" opacity="1"/><path d="M186.10,226.70 L238.90,221.50" fill="none" stroke="#1a2358" stroke-width="1.1" stroke-linejoin="round" opacity="1"/><ellipse cx="200.8" cy="214.2" rx="1.6" ry="1.2" fill="#383838"/></g>
<g clip-path="url(#k8)"><rect x="250.70000000000002" y="162.2" width="75.2" height="76.4" fill="url(#g8)"/><rect x="250.70000000000002" y="162.2" width="75.2" height="76.4" fill="url(#grain)"/><path d="M252.00,208.50 L326.00,208.50" fill="none" stroke="#6a6a6a" stroke-width="8" stroke-linejoin="round" opacity="0.45"/><path d="M252.00,180.00 L326.00,180.00" fill="none" stroke="#707070" stroke-width="12" stroke-linejoin="round" opacity="0.3"/><ellipse cx="284.6" cy="197.4" rx="2.5" ry="2.5" fill="#2e2e2e" opacity="0.8"/><ellipse cx="290.5" cy="200.3" rx="2" ry="1.5" fill="#2e2e2e" opacity="0.8"/><path d="M258.00,204.00 L326.00,203.60" fill="none" stroke="#1e1e1e" stroke-width="1.0" stroke-linejoin="round" opacity="0.8"/><path d="M251.00,202.80 L326.00,202.40" fill="none" stroke="#ececec" stroke-width="1.1" stroke-linejoin="round" opacity="1"/><path d="M251.00,214.90 L300.00,214.80" fill="none" stroke="#151515" stroke-width="1.8" stroke-linejoin="round" opacity="1"/><path d="M300.00,214.80 L326.00,214.50" fill="none" stroke="#2e1414" stroke-width="1.8" stroke-linejoin="round" opacity="1"/><path d="M261.20,224.50 C265.10,224.13 275.32,222.80 284.60,222.30 C293.88,221.80 311.52,221.63 316.90,221.50" fill="none" stroke="#1e2a70" stroke-width="1.1" stroke-linejoin="round" opacity="1"/></g>
</svg>
</body></html>
